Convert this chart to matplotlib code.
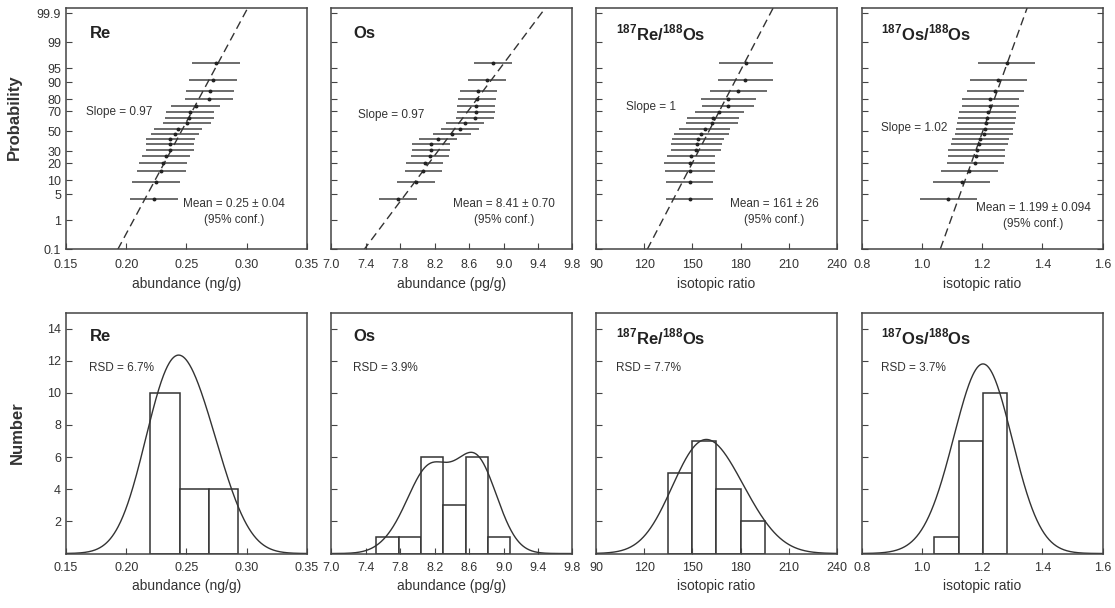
import math
import numpy as np
import matplotlib
matplotlib.use("Agg")
import matplotlib.pyplot as plt

plt.rcParams['font.family'] = ['Liberation Sans', 'DejaVu Sans']
plt.rcParams['mathtext.fontset'] = 'custom'
plt.rcParams['mathtext.rm'] = 'Liberation Sans'
plt.rcParams['mathtext.bf'] = 'Liberation Sans:bold'

# plotting positions (%) of the 18 ranked samples
prob = [3.80, 9.24, 14.67, 20.11, 25.54, 30.98, 36.41, 41.85, 47.28,
        52.72, 58.15, 63.59, 69.02, 74.46, 79.89, 85.33, 90.76, 96.20]

# ranked measurements, low to high
re_vals = [0.2231, 0.2250, 0.2292, 0.2306, 0.2328, 0.2361, 0.2361, 0.2367, 0.2403,
           0.2431, 0.2506, 0.2525, 0.2528, 0.2575, 0.2690, 0.2694, 0.2722, 0.2744]
os_vals = [7.777, 7.981, 8.069, 8.081, 8.146, 8.158, 8.158, 8.238, 8.400,
           8.496, 8.554, 8.669, 8.681, 8.681, 8.692, 8.708, 8.808, 8.881]
reos_vals = [148.3, 148.3, 148.3, 148.3, 149.4, 152.5, 152.7, 153.5, 155.6,
             157.6, 162.2, 162.8, 166.9, 172.1, 172.5, 178.7, 182.9, 183.5]
osos_vals = [1.088, 1.132, 1.158, 1.177, 1.180, 1.182, 1.191, 1.194, 1.206,
             1.208, 1.213, 1.216, 1.219, 1.227, 1.227, 1.244, 1.254, 1.282]

re_err = [0.020] * 18
os_err = [0.22] * 18
reos_err = [14.5, 14.5, 15.5, 16, 15, 15.5, 16, 16, 17,
            16, 16, 16, 15.5, 16, 17, 18, 17, 17]
osos_err = [0.095] * 18

# fitted normal lines (mean, slope per sigma)
fit_lines = [(0.2458, 0.01708), (8.411, 0.3333), (160.3, 12.41), (1.202, 0.0457)]
slope_txt = ["Slope = 0.97", "Slope = 0.97", "Slope = 1", "Slope = 1.02"]
mean_txt = ["Mean = 0.25 ± 0.04", "Mean = 8.41 ± 0.70", "Mean = 161 ± 26", "Mean = 1.199 ± 0.094"]
rsd_txt = ["RSD = 6.7%", "RSD = 3.9%", "RSD = 7.7%", "RSD = 3.7%"]

# histograms
re_edges = [0.220, 0.2443, 0.2686, 0.2929]
re_counts = [10, 4, 4]
os_edges = [7.52, 7.785, 8.035, 8.30, 8.56, 8.823, 9.08]
os_counts = [1, 1, 6, 3, 6, 1]
reos_edges = [135, 150, 165, 180, 195]
reos_counts = [5, 7, 4, 2]
osos_edges = [1.041, 1.122, 1.202, 1.283]
osos_counts = [1, 7, 10]

# density curve settings (kernel width, peak height)
curves = [(0.021, 12.35), (0.215, 6.3), (17.5, 7.1), (0.088, 11.8)]

titles = ["Re", "Os", r"$^{\mathbf{187}}$Re/$^{\mathbf{188}}$Os", r"$^{\mathbf{187}}$Os/$^{\mathbf{188}}$Os"]
xlabels = ["abundance (ng/g)", "abundance (pg/g)", "isotopic ratio", "isotopic ratio"]
xlims = [(0.15, 0.35), (7.0, 9.8), (90, 240), (0.8, 1.6)]
xticks = [[0.15, 0.20, 0.25, 0.30, 0.35],
          [7.0, 7.4, 7.8, 8.2, 8.6, 9.0, 9.4, 9.8],
          [90, 120, 150, 180, 210, 240],
          [0.8, 1.0, 1.2, 1.4, 1.6]]
xfmt = ["{:.2f}", "{:.1f}", "{:.0f}", "{:.1f}"]
prob_ticks = [0.1, 1, 5, 10, 20, 30, 50, 70, 80, 90, 95, 99, 99.9]
prob_labels = ["0.1", "1", "5", "10", "20", "30", "50", "70", "80", "90", "95", "99", "99.9"]
num_ticks = [2, 4, 6, 8, 10, 12, 14]

vals = [re_vals, os_vals, reos_vals, osos_vals]
errs = [re_err, os_err, reos_err, osos_err]
edges = [re_edges, os_edges, reos_edges, osos_edges]
counts = [re_counts, os_counts, reos_counts, osos_counts]

_erf = np.vectorize(math.erf, otypes=[float])


def norm_cdf(z):
    return 0.5 * (1.0 + _erf(np.asarray(z, float) / math.sqrt(2.0)))


def prob_fwd(p):
    p = np.clip(np.asarray(p, float) / 100.0, 1e-9, 1 - 1e-9)
    lo = np.full_like(p, -7.0)
    hi = np.full_like(p, 7.0)
    for _ in range(45):
        mid = 0.5 * (lo + hi)
        below = norm_cdf(mid) < p
        lo = np.where(below, mid, lo)
        hi = np.where(below, hi, mid)
    return 0.5 * (lo + hi)


def prob_inv(z):
    return norm_cdf(z) * 100.0


ink = '#333333'
fig = plt.figure(figsize=(11.15, 6.08), dpi=100)
lefts = [0.0592, 0.2973, 0.5345, 0.7728]
W, H = 0.2161, 0.3964

title_x = [0.097, 0.089, 0.083, 0.079]
slope_pos = [(0.083, 0.57), (0.109, 0.557), (0.124, 0.589), (0.079, 0.502)]
mean_x = [0.697, 0.716, 0.739, 0.711]
mean_y = [0.153, 0.155, 0.155, 0.139]

for i in range(4):
    # probability plots
    ax = fig.add_axes([lefts[i], 0.590, W, H])
    ax.set_yscale('function', functions=(prob_fwd, prob_inv))
    ax.errorbar(vals[i], prob, xerr=errs[i], fmt='o', ms=1.8, color='#222222',
                ecolor='#444444', elinewidth=1.1, capsize=0)
    mu, sg = fit_lines[i]
    zz = np.array([-3.4, 3.6])
    ax.plot(mu + sg * zz, prob_inv(zz), color='#333333', lw=1.0, dashes=(6, 3.5))
    ax.set_ylim(0.1, 99.935)
    ax.set_xlim(*xlims[i])
    ax.set_xticks(xticks[i])
    ax.set_xticklabels([xfmt[i].format(v) for v in xticks[i]])
    ax.set_yticks(prob_ticks)
    ax.minorticks_off()
    if i == 0:
        ax.set_yticklabels(prob_labels)
        ax.set_ylabel("Probability", fontsize=12, fontweight='bold', color=ink)
        ax.yaxis.set_label_coords(-0.185, 0.55)
    else:
        ax.set_yticklabels([])
    ax.tick_params(direction='in', length=4, width=0.8, colors='#444444', labelcolor=ink,
                   labelsize=9, right=(i == 3))
    ax.tick_params(axis='x', pad=7)
    ax.set_xlabel(xlabels[i], fontsize=10, color=ink, labelpad=4)
    ax.text(title_x[i], 0.897, titles[i], transform=ax.transAxes, fontsize=12,
            fontweight='bold', color='#222222', va='center', ha='left')
    ax.text(slope_pos[i][0], slope_pos[i][1], slope_txt[i], transform=ax.transAxes,
            fontsize=8.5, color=ink, va='center', ha='left')
    ax.text(mean_x[i], mean_y[i], mean_txt[i] + "\n(95% conf.)", transform=ax.transAxes,
            fontsize=8.5, color=ink, va='center', ha='center', linespacing=1.45)
    for s in ax.spines.values():
        s.set_color('#444444')
        s.set_linewidth(1.1)

    # histograms with density curves
    bx = fig.add_axes([lefts[i], 0.0896, W, H])
    e = np.asarray(edges[i])
    bx.bar(e[:-1], counts[i], width=np.diff(e), align='edge', facecolor='white',
           edgecolor='#333333', linewidth=1.1)
    bw, peak = curves[i]
    xs = np.linspace(xlims[i][0], xlims[i][1], 500)
    dens = np.exp(-0.5 * ((xs[:, None] - np.asarray(vals[i])[None, :]) / bw) ** 2).sum(axis=1)
    bx.plot(xs, dens / dens.max() * peak, color='#333333', lw=1.0)
    bx.set_xlim(*xlims[i])
    bx.set_ylim(0, 15)
    bx.set_xticks(xticks[i])
    bx.set_xticklabels([xfmt[i].format(v) for v in xticks[i]])
    bx.set_yticks(num_ticks)
    if i == 0:
        bx.set_ylabel("Number", fontsize=12, fontweight='bold', color=ink)
        bx.yaxis.set_label_coords(-0.17, 0.5)
    else:
        bx.set_yticklabels([])
    bx.tick_params(direction='in', length=4, width=0.8, colors='#444444', labelcolor=ink,
                   labelsize=9)
    bx.tick_params(axis='x', pad=6)
    bx.set_xlabel(xlabels[i], fontsize=10, color=ink, labelpad=4)
    bx.text(title_x[i], 0.899, titles[i], transform=bx.transAxes, fontsize=12,
            fontweight='bold', color='#222222', va='center', ha='left')
    bx.text(title_x[i], 0.768, rsd_txt[i], transform=bx.transAxes,
            fontsize=8.5, color=ink, va='center', ha='left')
    for s in bx.spines.values():
        s.set_color('#444444')
        s.set_linewidth(1.1)

fig.savefig("out.png", dpi=100)
